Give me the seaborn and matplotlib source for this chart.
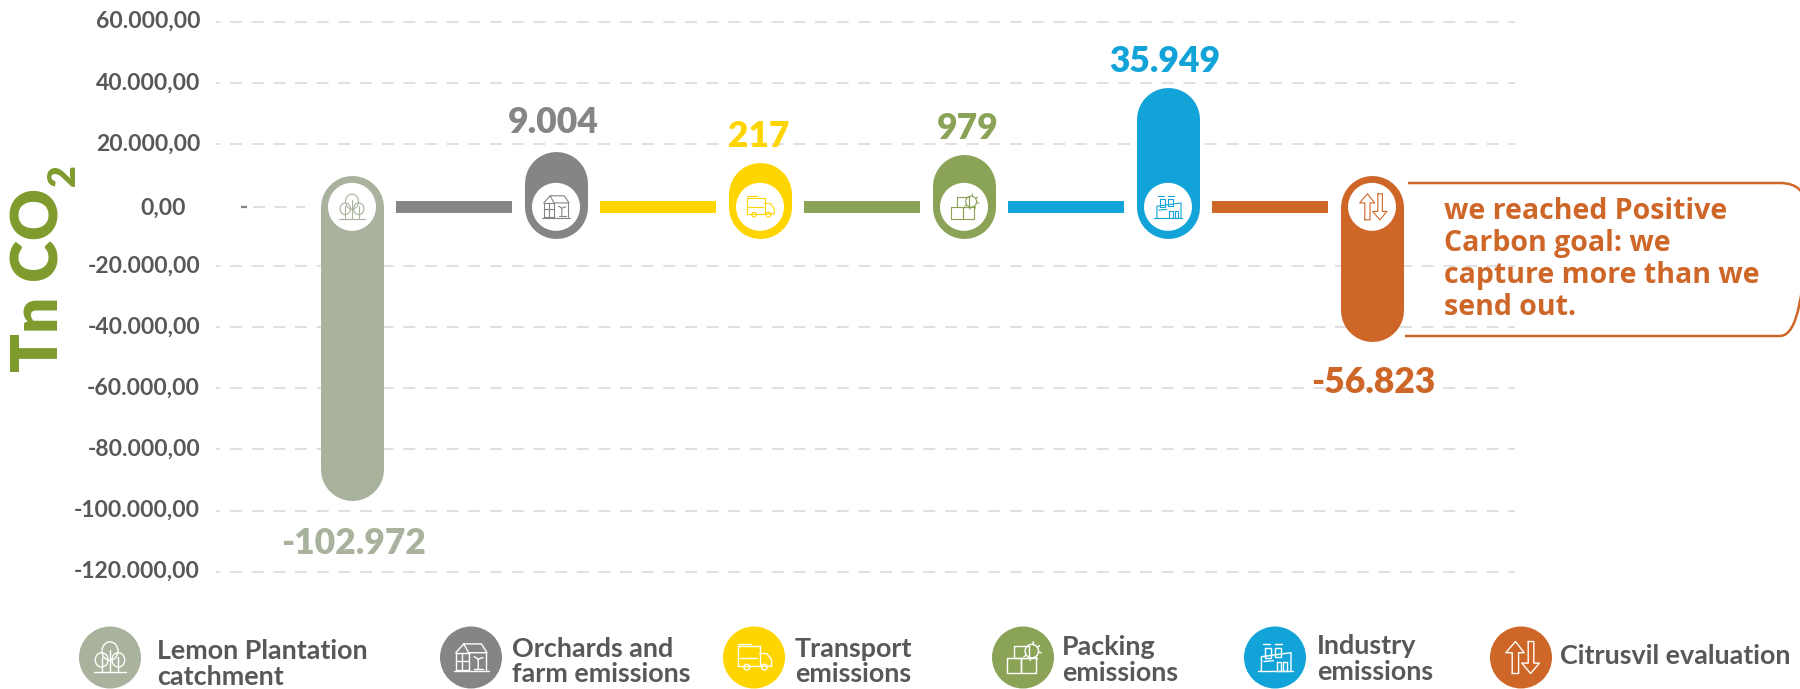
import numpy as np
import pandas as pd
import matplotlib
matplotlib.use("Agg")
import matplotlib.pyplot as plt
from matplotlib.patches import Circle, PathPatch, Ellipse
from matplotlib.path import Path
from matplotlib.transforms import ScaledTranslation
import seaborn as sns

sources = ["Lemon Plantation\ncatchment", "Orchards and\nfarm emissions", "Transport\nemissions",
           "Packing\nemissions", "Industry\nemissions", "Citrusvil evaluation"]
labels = ["-102.972", "9.004", "217", "979", "35.949", "-56.823"]
# the drawn pills don't follow the printed numbers, so their ends are read off the axis
pill_upper = [9700, 17500, 13900, 16600, 38500, 9700]
pill_lower = [-96600, -11000, -11000, -11000, -11000, -44800]
colors = ["#A9B29C", "#858585", "#FFD500", "#8BA357", "#12A3D8", "#CE6628"]
icon_names = ["trees", "house", "truck", "boxes", "factory", "arrows"]
y_ticks = [60000, 40000, 20000, 0, -20000, -40000, -60000, -80000, -100000, -120000]
y_tick_labels = ["60.000,00", "40.000,00", "20.000,00", "0,00", "-20.000,00", "-40.000,00",
                 "-60.000,00", "-80.000,00", "-100.000,00", "-120.000,00"]
note = "we reached Positive\nCarbon goal: we\ncapture more than we\nsend out."

W, H = 1800, 689
TEXT = "#58585A"
OLIVE = "#7F9B2C"
px_per_1000 = 3.055
zero_px = 205
line_level = -600

sns.set_style("white")
plt.rcParams["font.family"] = ["Lato", "DejaVu Sans"]
plt.rcParams["lines.scale_dashes"] = False

fig = plt.figure(figsize=(W / 100, H / 100), dpi=100)
ax = fig.add_axes([216 / W, 0, (1515 - 216) / W, 1])
step = 204
x0 = 352
xlim = ((216 - x0) / step, (1515 - x0) / step)
ylim = (-(H - zero_px) / px_per_1000 * 1000, zero_px / px_per_1000 * 1000)
radius = 31.5 / px_per_1000 * 1000
pill_pts = 63 * 0.72

for i, s in enumerate(sources):
    low = pill_lower[i] + radius
    high = pill_upper[i] - radius
    sns.barplot(x=[s], y=[high - low], order=sources, bottom=low, color=colors[i], saturation=1,
                width=60 / step, errorbar=None, ax=ax, zorder=3)
    # thick round-capped line on top gives the pill shape
    ax.vlines(i, low, high, color=colors[i], lw=pill_pts, capstyle="round", zorder=3)

# connector between each pill and the next one takes the colour of the next one
for i in range(5):
    ax.hlines(line_level, i + 0.5 - 0.284, i + 0.5 + 0.284, color=colors[i + 1], lw=8.6, zorder=2)

# value labels
label_offsets = [(1, -31), (-2, 21), (-1, 18.5), (3, 18.5), (-2, 18.5), (1, -29)]
for i, lab in enumerate(labels):
    anchor = pill_lower[i] if lab.startswith("-") else pill_upper[i]
    ax.annotate(lab, (i, anchor), xytext=label_offsets[i], textcoords="offset points", ha="center",
                va="center", color=colors[i], fontsize=25.5, fontweight="heavy", zorder=5)

ax.set_xlim(xlim)
ax.set_ylim(ylim)
ax.set_xticks([])
ax.set_xlabel("")
ax.set_ylabel("")
ax.set_yticks(y_ticks)
ax.set_yticklabels(y_tick_labels, fontsize=16.5, fontweight="bold", color=TEXT)
ax.tick_params(axis="y", length=0, pad=11.5)
ax.grid(True, axis="y", color="#E0E0E0", lw=1.4, linestyle=(5.5, (8.6, 7)))
ax.set_axisbelow(True)
sns.despine(ax=ax, left=True, bottom=True)
ax.patch.set_alpha(0)

# zero has no full gridline, only a short stub left of the first pill
ax.get_ygridlines()[y_ticks.index(0)].set_visible(False)
ax.hlines(line_level, (253 - x0) / step, (305 - x0) / step, color="#E0E0E0", lw=1.4,
          linestyle=(0, (8.6, 7)), zorder=1)
ax.hlines(line_level, (241 - x0) / step, (247 - x0) / step, color="#858585", lw=1.6, zorder=1)
for lab, t in zip(ax.get_yticklabels(), y_ticks):
    dx, dy = (-10 / 72, -1 / 72) if t == 0 else (0, 1.5 / 72)
    lab.set_transform(lab.get_transform() + ScaledTranslation(dx, dy, fig.dpi_scale_trans))

# overlay in image pixels for icons, legend and note
ov = fig.add_axes([0, 0, 1, 1])
ov.set_xlim(0, W)
ov.set_ylim(H, 0)
ov.axis("off")
ov.patch.set_alpha(0)


def draw_icon(name, cx, cy, size, color, lw=0.8):
    def line(*pts):
        xs = [cx + p[0] * size for p in pts]
        ys = [cy + p[1] * size for p in pts]
        ov.plot(xs, ys, color=color, lw=lw, solid_capstyle="round", zorder=10)

    def rect(x0, y0, x1, y1):
        line((x0, y0), (x1, y0), (x1, y1), (x0, y1), (x0, y0))

    def circ(x, y, r):
        ov.add_patch(Circle((cx + x * size, cy + y * size), r * size, fill=False, ec=color, lw=lw, zorder=10))

    if name == "trees":
        ov.add_patch(Ellipse((cx, cy - 0.4 * size), 1.0 * size, 1.15 * size, fill=False, ec=color, lw=lw, zorder=10))
        for sx in (-0.52, 0.52):
            ov.add_patch(Ellipse((cx + sx * size, cy + 0.15 * size), 0.8 * size, 0.9 * size, fill=False,
                                 ec=color, lw=lw, zorder=10))
            line((sx, -0.05), (sx, 0.85))
        line((0, -0.5), (0, 0.85))
        line((-1, 0.9), (1, 0.9))
    elif name == "house":
        line((-0.95, -0.3), (-0.45, -0.85), (0.65, -0.85), (1.0, -0.3), (-0.15, -0.3), (-0.45, -0.85))
        rect(-0.95, -0.3, -0.15, 0.75)
        line((-0.95, 0.2), (-0.15, 0.2))
        line((-0.55, -0.3), (-0.55, 0.75))
        line((0.95, -0.3), (0.95, 0.75))
        line((-1.05, 0.85), (1.1, 0.85))
        line((0.2, 0.7), (0.75, 0.7))
        line((0.45, 0.7), (0.45, 0.1), (0.2, -0.05))
        line((0.45, 0.1), (0.75, 0.0))
    elif name == "truck":
        rect(-1.0, -0.7, 0.35, 0.55)
        line((-1.0, -0.85), (-0.2, -0.85))
        line((0.35, -0.25), (0.8, -0.25), (1.1, 0.15), (1.1, 0.55), (0.35, 0.55))
        circ(-0.45, 0.6, 0.18)
        circ(0.65, 0.6, 0.18)
        line((-0.9, 0.05), (0.2, 0.05))
    elif name == "boxes":
        rect(-1.0, 0.05, -0.1, 0.95)
        rect(-0.1, 0.05, 0.8, 0.95)
        rect(-0.55, -0.75, 0.35, 0.05)
        th = np.linspace(0, 2 * np.pi, 9)[:-1]
        circ(0.55, -0.4, 0.42)
        for a in th[:6] - 1.4:
            line((0.55 + 0.42 * np.cos(a), -0.4 + 0.42 * np.sin(a)), (0.55 + 0.6 * np.cos(a), -0.4 + 0.6 * np.sin(a)))
    elif name == "factory":
        rect(-0.65, -0.6, -0.25, 0.0)
        rect(0.0, -0.6, 0.4, -0.05)
        line((-0.85, 0.85), (-0.85, -0.05), (1.0, -0.3), (1.0, 0.85))
        line((-1.05, 0.85), (1.1, 0.85))
        rect(0.1, 0.3, 0.35, 0.85)
        rect(0.5, 0.3, 0.75, 0.85)
        line((-0.7, 0.25), (-0.1, 0.2))
        line((-0.75, -0.85), (-0.3, -0.85))
        line((0.0, -0.85), (0.45, -0.85))
    elif name == "arrows":
        line((-0.55, 1.0), (-0.55, -0.3), (-0.95, -0.3), (-0.35, -1.0), (0.2, -0.3), (-0.15, -0.3), (-0.15, 1.0),
             (-0.55, 1.0))
        line((0.45, -1.0), (0.45, 0.35), (0.05, 0.35), (0.6, 1.0), (1.15, 0.35), (0.8, 0.35), (0.8, -1.0), (0.45, -1.0))


# white discs with icons on the pills
for i, name in enumerate(icon_names):
    px, py = ax.transData.transform((i, line_level))
    py = H - py
    ov.add_patch(Circle((px, py), 24, fc="white", ec="none", zorder=9))
    draw_icon(name, px, py, 13, colors[i])

# legend row
legend_x = [110, 471, 754, 1023, 1275, 1521]
legend_text_x = [157, 512, 795, 1062, 1317, 1560]
legend_text_y = [664, 661.5, 661.5, 660, 659, 656]
for i, s in enumerate(sources):
    ov.add_patch(Circle((legend_x[i], 657.5), 31, fc=colors[i], ec="none", zorder=9))
    draw_icon(icon_names[i], legend_x[i], 657.5, 16, "white", lw=1.0)
    ov.text(legend_text_x[i], legend_text_y[i], s, color=TEXT, fontsize=19.4, fontweight="bold", ha="left",
            va="center", linespacing=1.06, zorder=10)

# axis title
ov.text(40, 372, "Tn CO", rotation=90, color=OLIVE, fontsize=46, fontweight="heavy", ha="center", va="bottom",
        zorder=10)
ov.text(64, 186, "2", rotation=90, color=OLIVE, fontsize=27, fontweight="heavy", ha="center", va="bottom", zorder=10)

# note box, its right side falls off the image
verts = [(1408, 183), (1780, 183), (1806, 183), (1806, 209), (1806, 310), (1806, 336), (1780, 336), (1405, 336)]
codes = [Path.MOVETO, Path.LINETO, Path.CURVE3, Path.CURVE3, Path.LINETO, Path.CURVE3, Path.CURVE3, Path.LINETO]
ov.add_patch(PathPatch(Path(verts, codes), fill=False, ec=colors[5], lw=1.8, zorder=8))
ov.text(1444, 259.5, note, color=colors[5], fontsize=20.5, fontweight="bold", family=["Open Sans", "DejaVu Sans"],
        ha="left", va="center", linespacing=1.14, zorder=10)

fig.savefig("out.png", dpi=100)
